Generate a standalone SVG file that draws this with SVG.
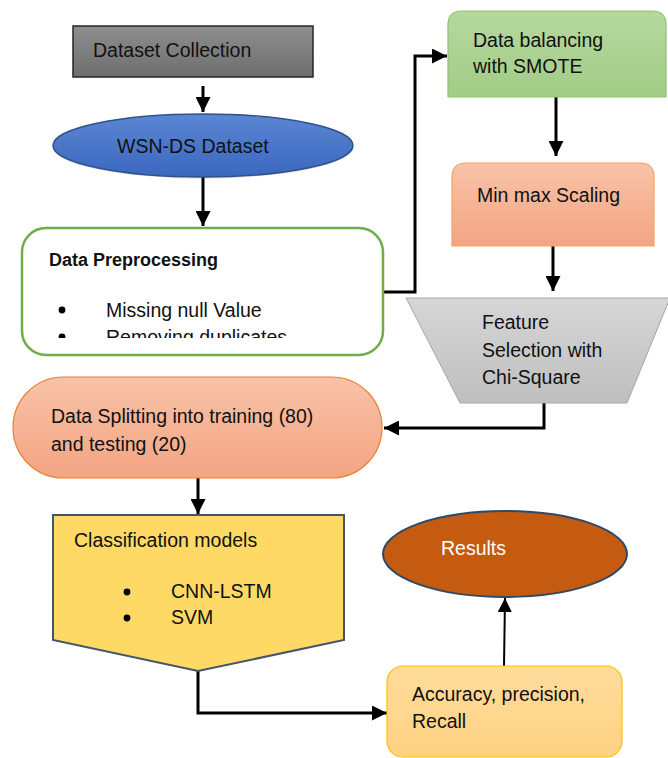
<svg xmlns="http://www.w3.org/2000/svg" width="668" height="758" viewBox="0 0 668 758">
<defs>
<linearGradient id="gGray" x1="0" y1="0" x2="0" y2="1"><stop offset="0" stop-color="#8e8e8e"/><stop offset="1" stop-color="#6e6e6e"/></linearGradient>
<linearGradient id="gBlue" x1="0" y1="0" x2="0" y2="1"><stop offset="0" stop-color="#5b86d2"/><stop offset="1" stop-color="#3a68bf"/></linearGradient>
<linearGradient id="gGreen" x1="0" y1="0" x2="0" y2="1"><stop offset="0" stop-color="#b6d8a0"/><stop offset="1" stop-color="#a2cc86"/></linearGradient>
<linearGradient id="gOrange" x1="0" y1="0" x2="0" y2="1"><stop offset="0" stop-color="#f8c3a8"/><stop offset="1" stop-color="#f4a482"/></linearGradient>
<linearGradient id="gLGray" x1="0" y1="0" x2="0" y2="1"><stop offset="0" stop-color="#d6d6d6"/><stop offset="1" stop-color="#bfbfbf"/></linearGradient>
<linearGradient id="gYellow" x1="0" y1="0" x2="0" y2="1"><stop offset="0" stop-color="#ffdc9c"/><stop offset="1" stop-color="#ffd282"/></linearGradient>
<marker id="ah" viewBox="0 0 10 10" refX="10" refY="5" markerWidth="5" markerHeight="5" markerUnits="strokeWidth" orient="auto"><path d="M0,0 L10,5 L0,10 Z" fill="#000"/></marker>
<marker id="ah2" viewBox="0 0 10 10" refX="10" refY="5" markerWidth="7" markerHeight="7" markerUnits="strokeWidth" orient="auto"><path d="M0,0 L10,5 L0,10 Z" fill="#000"/></marker>
<clipPath id="clipPre"><rect x="22" y="228" width="361" height="110"/></clipPath>
</defs>
<style>
text{font-family:"Liberation Sans",Arial,sans-serif;font-size:19.5px;fill:#111;}
.b{font-weight:bold;font-size:18px;}
.w{fill:#fff;}
.c{fill:none;stroke:#000;stroke-width:3;}
.c2{fill:none;stroke:#000;stroke-width:2;}
</style>
<g id="connectors">
<path class="c" d="M203,86 L203,112" marker-end="url(#ah)"/>
<path class="c" d="M203,177 L203,226" marker-end="url(#ah)"/>
<path class="c" d="M383,292 L415,292 L415,56 L447,56" marker-end="url(#ah)"/>
<path class="c" d="M556,97 L556,156" marker-end="url(#ah)"/>
<path class="c" d="M553,246 L553,291" marker-end="url(#ah)"/>
<path class="c" d="M544,403 L544,428 L384,428" marker-end="url(#ah)"/>
<path class="c" d="M198,478 L198,514" marker-end="url(#ah)"/>
<path class="c" d="M198,671 L198,713 L387,713" marker-end="url(#ah)"/>
<path class="c2" d="M504,666 L505,598" marker-end="url(#ah2)"/>
</g>
<g id="dataset-collection">
<rect x="73" y="26" width="240" height="51" fill="url(#gGray)" stroke="#262626" stroke-width="1.5"/>
<text x="93" y="57">Dataset Collection</text>
</g>
<g id="wsn-ds">
<ellipse cx="203" cy="147" rx="150" ry="31.5" fill="#000" opacity="0.12"/>
<ellipse cx="203" cy="145.5" rx="150" ry="31.5" fill="url(#gBlue)" stroke="#2f528f" stroke-width="1.5"/>
<text x="117" y="153">WSN-DS Dataset</text>
</g>
<g id="preprocessing">
<rect x="22" y="228" width="361" height="127" rx="24" fill="#fff" stroke="#70ad47" stroke-width="2.5"/>
<text class="b" x="49" y="266">Data Preprocessing</text>
<g clip-path="url(#clipPre)">
<circle cx="62" cy="310" r="3.4" fill="#000"/>
<text x="106" y="317">Missing null Value</text>
<circle cx="62" cy="337" r="3.4" fill="#000"/>
<text x="106" y="344">Removing duplicates</text>
</g>
</g>
<g id="smote">
<path d="M462,11 H652 Q666,11 666,25 V97 H448 V25 Q448,11 462,11 Z" fill="url(#gGreen)" stroke="#8cc46c" stroke-width="1.2"/>
<text x="473" y="47">Data balancing</text>
<text x="473" y="73">with SMOTE</text>
</g>
<g id="minmax">
<path d="M466,163 H640 Q654,163 654,177 V246 H452 V177 Q452,163 466,163 Z" fill="url(#gOrange)" stroke="#f4a264" stroke-width="1.2"/>
<text x="477" y="202">Min max Scaling</text>
</g>
<g id="feature-selection">
<path d="M406,298 L670,298 L627,403 L460,403 Z" fill="url(#gLGray)" stroke="#a6a6a6" stroke-width="1"/>
<text x="482" y="329">Feature</text>
<text x="482" y="357">Selection with</text>
<text x="482" y="384">Chi-Square</text>
</g>
<g id="splitting">
<rect x="13" y="377" width="369" height="101" rx="50.5" fill="url(#gOrange)" stroke="#ed7d31" stroke-width="1.2"/>
<text x="51" y="423">Data Splitting into training (80)</text>
<text x="51" y="451">and testing (20)</text>
</g>
<g id="classification">
<path d="M53,515 L344,515 L344,640 L198,671 L53,640 Z" fill="#ffd966" stroke="#44546a" stroke-width="2"/>
<text x="74" y="547">Classification models</text>
<circle cx="127" cy="592" r="3.4" fill="#000"/>
<text x="171" y="598">CNN-LSTM</text>
<circle cx="127" cy="618" r="3.4" fill="#000"/>
<text x="171" y="624">SVM</text>
</g>
<g id="results">
<ellipse cx="505" cy="554" rx="122" ry="43" fill="#c55a11" stroke="#2e4a68" stroke-width="2"/>
<text class="w" x="441" y="555">Results</text>
</g>
<g id="metrics">
<rect x="387" y="666" width="235" height="91" rx="16" fill="url(#gYellow)" stroke="#ffc000" stroke-width="1.2"/>
<text x="412" y="701">Accuracy, precision,</text>
<text x="412" y="728">Recall</text>
</g>
</svg>
